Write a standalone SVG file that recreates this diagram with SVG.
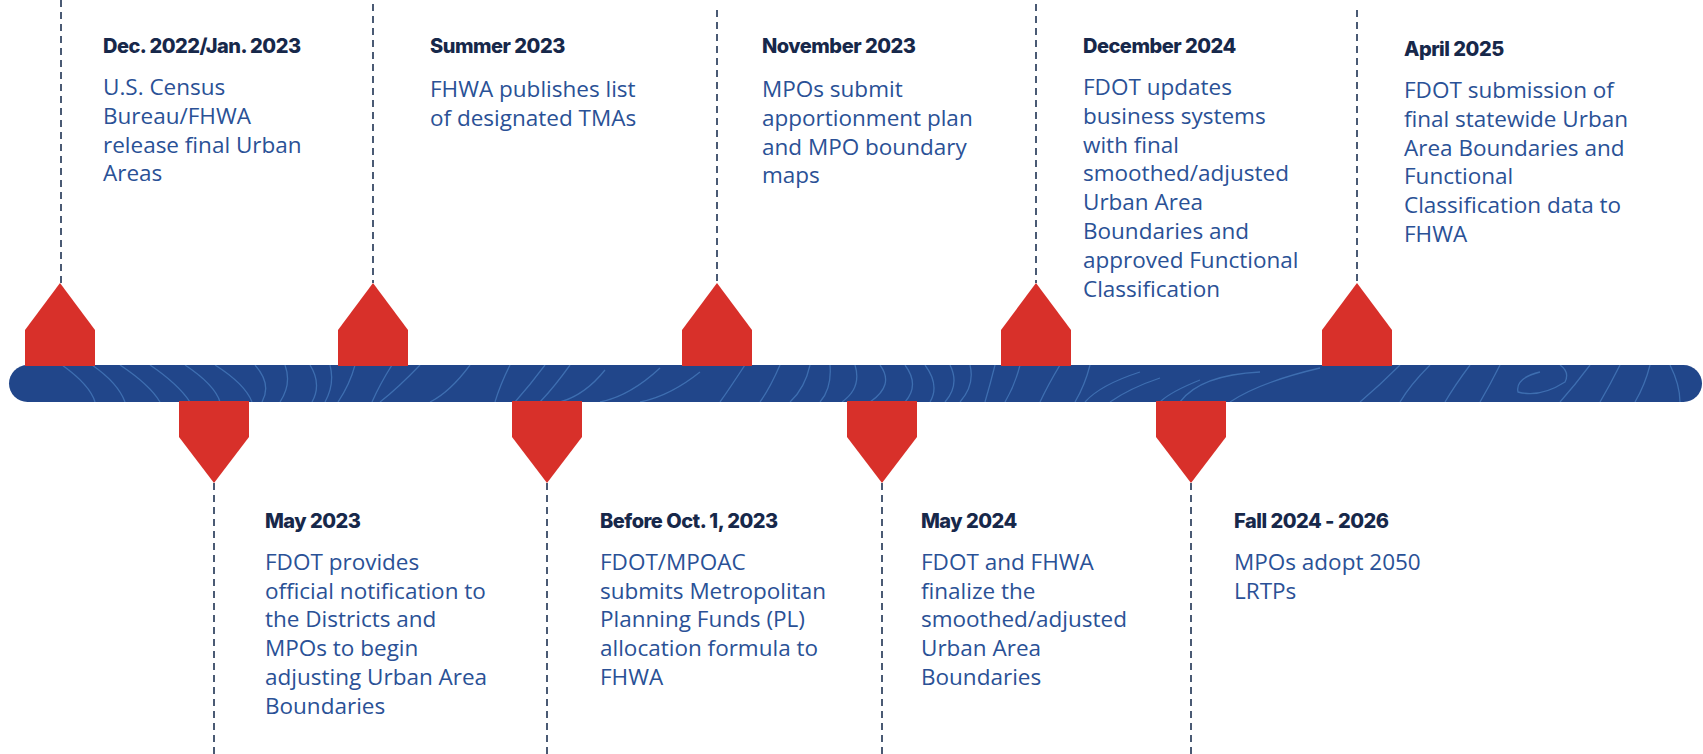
<svg xmlns="http://www.w3.org/2000/svg" width="1703" height="754" viewBox="0 0 1703 754">
<style>
.title{font-family:Inter,"Liberation Sans",sans-serif;font-weight:800;font-size:20px;fill:#17284a;letter-spacing:-0.5px}
.body{font-family:"Open Sans","Noto Sans","Liberation Sans",sans-serif;font-size:22.5px;fill:#2a5196}
.mk{fill:#d8302a}
.dash{stroke:#4a5a74;stroke-width:2;stroke-dasharray:7 5;fill:none}
.contour{fill:none;stroke:#4a7fc0;stroke-width:1.3;opacity:0.7}
</style>
<defs>
<clipPath id="barclip"><rect x="9" y="365" width="1693" height="37" rx="18.5"/></clipPath>
</defs>
<rect width="1703" height="754" fill="#ffffff"/>

<g id="connectors">
<line class="dash" x1="61" y1="0" x2="61" y2="283"/>
<line class="dash" x1="373" y1="4" x2="373" y2="283"/>
<line class="dash" x1="717" y1="10" x2="717" y2="283"/>
<line class="dash" x1="1036" y1="4" x2="1036" y2="283"/>
<line class="dash" x1="1357" y1="10" x2="1357" y2="283"/>
<line class="dash" x1="214" y1="483" x2="214" y2="754"/>
<line class="dash" x1="547" y1="483" x2="547" y2="754"/>
<line class="dash" x1="882" y1="483" x2="882" y2="754"/>
<line class="dash" x1="1191" y1="483" x2="1191" y2="754"/>
</g>

<g id="timeline-bar">
<rect x="9" y="365" width="1693" height="37" rx="18.5" fill="#21468a"/>
<g clip-path="url(#barclip)">
<path class="contour" d="M62 365 Q90 385 95 402 M92 365 Q118 383 125 402 M120 365 Q150 385 160 402 M150 365 Q178 384 190 402 M185 365 Q215 385 220 402 M215 365 Q245 384 252 402 M255 365 Q272 384 262 402 M285 365 Q292 384 280 402 M310 365 Q322 384 312 402 M330 365 Q335 384 325 402 M355 365 Q350 384 338 402 M392 365 Q380 384 372 402 M420 365 Q398 388 380 402"/>
<path class="contour" d="M470 365 Q450 392 430 402 M510 365 Q500 385 495 402 M545 365 Q530 385 515 402 M570 365 Q555 386 540 402 M605 370 Q585 395 560 402 M660 368 Q630 396 600 402 M700 372 Q670 396 640 402 M745 365 Q730 388 720 402 M780 365 Q770 388 760 402 M810 365 Q805 388 790 402 M830 365 Q832 388 820 402 M855 365 Q862 388 842 402 M880 365 Q895 385 870 402 M905 365 Q920 385 905 402 M925 365 Q940 385 930 402 M950 365 Q960 385 945 402 M970 365 Q975 385 960 402 M995 365 Q990 385 985 402 M1020 365 Q1015 385 1005 402"/>
<path class="contour" d="M1060 365 Q1048 385 1040 402 M1090 365 Q1085 385 1075 402 M1140 372 Q1100 385 1085 402 M1160 378 Q1130 388 1110 402 M1200 380 Q1170 392 1160 402 M1260 372 Q1200 375 1180 402 M1320 368 Q1260 382 1230 402 M1400 365 Q1380 385 1360 402 M1430 365 Q1410 385 1400 402 M1470 365 Q1455 385 1445 402 M1500 365 Q1490 385 1480 402 M1540 372 Q1515 378 1518 392 Q1540 398 1565 382 Q1570 372 1560 365 M1590 365 Q1575 385 1560 402 M1620 365 Q1610 385 1600 402 M1650 365 Q1645 385 1635 402 M1670 365 Q1680 385 1680 402"/>
</g>
</g>

<g id="event-dec2022">
<path class="mk" d="M25 366 L25 330 L60 283 L95 330 L95 366 Z"/>
<text class="title" x="103" y="53">Dec. 2022/Jan. 2023</text>
<text class="body" x="103" y="95"><tspan x="103">U.S. Census</tspan><tspan x="103" dy="28.8">Bureau/FHWA</tspan><tspan x="103" dy="28.8">release final Urban</tspan><tspan x="103" dy="28.8">Areas</tspan></text>
</g>

<g id="event-summer2023">
<path class="mk" d="M338 366 L338 330 L373 283 L408 330 L408 366 Z"/>
<text class="title" x="430" y="53">Summer 2023</text>
<text class="body" x="430" y="97"><tspan x="430">FHWA publishes list</tspan><tspan x="430" dy="28.8">of designated TMAs</tspan></text>
</g>

<g id="event-nov2023">
<path class="mk" d="M682 366 L682 330 L717 283 L752 330 L752 366 Z"/>
<text class="title" x="762" y="53">November 2023</text>
<text class="body" x="762" y="97"><tspan x="762">MPOs submit</tspan><tspan x="762" dy="28.8">apportionment plan</tspan><tspan x="762" dy="28.8">and MPO boundary</tspan><tspan x="762" dy="28.8">maps</tspan></text>
</g>

<g id="event-dec2024">
<path class="mk" d="M1001 366 L1001 330 L1036 283 L1071 330 L1071 366 Z"/>
<text class="title" x="1083" y="53">December 2024</text>
<text class="body" x="1083" y="95"><tspan x="1083">FDOT updates</tspan><tspan x="1083" dy="28.8">business systems</tspan><tspan x="1083" dy="28.8">with final</tspan><tspan x="1083" dy="28.8">smoothed/adjusted</tspan><tspan x="1083" dy="28.8">Urban Area</tspan><tspan x="1083" dy="28.8">Boundaries and</tspan><tspan x="1083" dy="28.8">approved Functional</tspan><tspan x="1083" dy="28.8">Classification</tspan></text>
</g>

<g id="event-apr2025">
<path class="mk" d="M1322 366 L1322 330 L1357 283 L1392 330 L1392 366 Z"/>
<text class="title" x="1404" y="56">April 2025</text>
<text class="body" x="1404" y="98"><tspan x="1404">FDOT submission of</tspan><tspan x="1404" dy="28.8">final statewide Urban</tspan><tspan x="1404" dy="28.8">Area Boundaries and</tspan><tspan x="1404" dy="28.8">Functional</tspan><tspan x="1404" dy="28.8">Classification data to</tspan><tspan x="1404" dy="28.8">FHWA</tspan></text>
</g>

<g id="event-may2023">
<path class="mk" d="M179 401 L179 437 L214 483 L249 437 L249 401 Z"/>
<text class="title" x="265" y="528">May 2023</text>
<text class="body" x="265" y="570"><tspan x="265">FDOT provides</tspan><tspan x="265" dy="28.7">official notification to</tspan><tspan x="265" dy="28.7">the Districts and</tspan><tspan x="265" dy="28.7">MPOs to begin</tspan><tspan x="265" dy="28.7">adjusting Urban Area</tspan><tspan x="265" dy="28.7">Boundaries</tspan></text>
</g>

<g id="event-oct2023">
<path class="mk" d="M512 401 L512 437 L547 483 L582 437 L582 401 Z"/>
<text class="title" x="600" y="528">Before Oct. 1, 2023</text>
<text class="body" x="600" y="570"><tspan x="600">FDOT/MPOAC</tspan><tspan x="600" dy="28.7">submits Metropolitan</tspan><tspan x="600" dy="28.7">Planning Funds (PL)</tspan><tspan x="600" dy="28.7">allocation formula to</tspan><tspan x="600" dy="28.7">FHWA</tspan></text>
</g>

<g id="event-may2024">
<path class="mk" d="M847 401 L847 437 L882 483 L917 437 L917 401 Z"/>
<text class="title" x="921" y="528">May 2024</text>
<text class="body" x="921" y="570"><tspan x="921">FDOT and FHWA</tspan><tspan x="921" dy="28.7">finalize the</tspan><tspan x="921" dy="28.7">smoothed/adjusted</tspan><tspan x="921" dy="28.7">Urban Area</tspan><tspan x="921" dy="28.7">Boundaries</tspan></text>
</g>

<g id="event-fall2024">
<path class="mk" d="M1156 401 L1156 437 L1191 483 L1226 437 L1226 401 Z"/>
<text class="title" x="1234" y="528">Fall 2024 - 2026</text>
<text class="body" x="1234" y="570"><tspan x="1234">MPOs adopt 2050</tspan><tspan x="1234" dy="28.7">LRTPs</tspan></text>
</g>
</svg>
